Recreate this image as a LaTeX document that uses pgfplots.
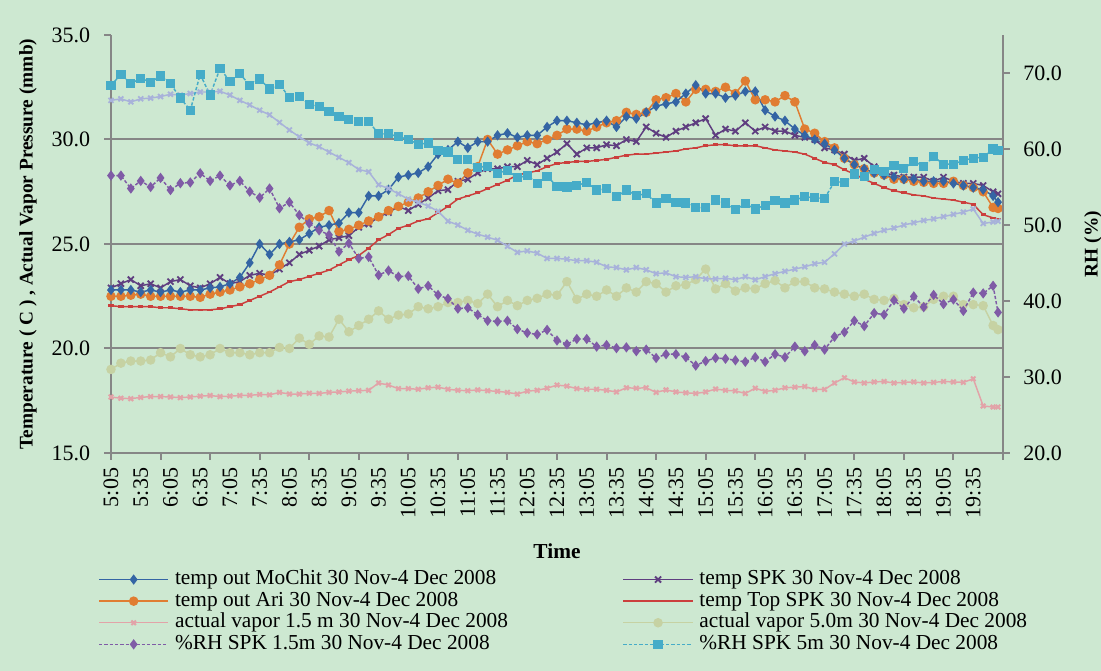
\documentclass[border=0pt]{standalone}
\usepackage{pgfplots}
\usepackage{pgfplotstable}
\usepackage{fontspec}
\setmainfont{Liberation Serif}
\pgfplotsset{compat=1.18}
\definecolor{bg}{RGB}{205,232,209}
\definecolor{axgray}{RGB}{134,134,134}
\definecolor{cMo}{RGB}{52,101,164}
\definecolor{cAri}{RGB}{224,125,50}
\definecolor{cSPK}{RGB}{95,62,128}
\definecolor{cTop}{RGB}{203,63,61}
\definecolor{cV15}{RGB}{226,163,168}
\definecolor{cV50}{RGB}{198,210,163}
\definecolor{cRH15}{RGB}{127,91,166}
\definecolor{cRH5}{RGB}{70,172,200}
\definecolor{cLav}{RGB}{168,178,218}

\pgfplotsset{
  s1/.style={color=cMo, line width=1.1pt, mark=diamond*, mark size=3pt, mark options={solid}},
  s2/.style={color=cAri, line width=1.1pt, mark=*, mark size=3pt, mark options={solid}},
  s3/.style={color=cSPK, line width=1.1pt, mark=x, mark size=3.2pt, mark options={solid, line width=1.4pt}},
  s4/.style={color=cTop, line width=1.1pt, mark=-, mark size=2pt, mark options={solid, line width=2pt}},
  s5/.style={color=cV15, line width=1.1pt, mark=x, mark size=2.4pt, mark options={solid, line width=1.5pt}},
  s6/.style={color=cV50, line width=1.1pt, mark=*, mark size=3pt, mark options={solid}},
  s7/.style={color=cRH15, line width=1.1pt, dash pattern=on 2.5pt off 1.5pt, mark=diamond*, mark size=3pt, mark options={solid}},
  s8/.style={color=cRH5, line width=1.1pt, dash pattern=on 2.5pt off 1.5pt, mark=square*, mark size=2.9pt, mark options={solid}},
  s9/.style={color=cLav, line width=1.1pt, mark=x, mark size=2.6pt, mark options={solid, line width=1.4pt}},
}

\pgfplotstableread{
m mochit ari spk top vap15 vap50 rh15 rh5 lav
0 22.8 22.5 22.9 22.05 17.68 19.0 56.5 68.4 66.4
10 22.8 22.5 23.1 22.0 17.62 19.3 56.5 69.8 66.6
20 22.8 22.55 23.3 22.0 17.6 19.4 54.8 68.6 66.2
30 22.7 22.6 23.0 22.0 17.66 19.4 55.8 69.3 66.6
40 22.8 22.5 23.1 22.0 17.7 19.45 55.0 68.8 66.7
50 22.7 22.5 22.9 21.95 17.7 19.8 56.2 69.6 66.9
60 22.8 22.5 23.2 21.95 17.68 19.6 54.6 68.6 67.2
70 22.7 22.5 23.3 21.9 17.65 20.0 55.5 66.7 67.1
80 22.8 22.5 23.0 21.85 17.68 19.7 55.6 65.1 67.3
90 22.8 22.45 22.9 21.85 17.72 19.6 56.8 69.8 67.5
100 22.9 22.6 23.1 21.85 17.75 19.7 55.8 67.1 67.5
110 22.95 22.7 23.4 21.9 17.7 20.0 56.5 70.6 67.6
120 23.1 22.8 23.1 22.0 17.72 19.8 55.2 68.9 67.1
130 23.4 22.95 23.2 22.1 17.75 19.8 55.8 69.9 66.4
140 24.1 23.1 23.5 22.3 17.76 19.7 54.4 68.4 65.8
150 25.0 23.3 23.6 22.5 17.8 19.8 53.6 69.2 65.1
160 24.5 23.5 23.5 22.7 17.78 19.8 54.8 67.9 64.5
170 25.0 24.0 23.8 22.95 17.9 20.05 52.2 68.5 63.5
180 25.1 25.0 24.1 23.2 17.82 20.0 53.0 66.8 62.5
190 25.2 25.8 24.5 23.3 17.82 20.5 51.3 66.9 61.6
200 25.5 26.2 24.7 23.45 17.86 20.2 50.2 65.9 60.8
210 25.8 26.3 24.9 23.6 17.85 20.6 49.3 65.6 60.3
220 25.9 26.6 25.2 23.75 17.9 20.55 48.7 64.9 59.6
230 26.0 25.6 25.3 24.0 17.92 21.4 46.5 64.3 58.9
240 26.5 25.7 25.4 24.25 17.96 20.8 47.6 63.9 58.2
250 26.5 25.9 25.8 24.45 17.98 21.1 45.6 63.6 57.3
260 27.3 26.1 25.95 24.8 18.0 21.4 45.8 63.6 57.0
270 27.3 26.3 26.3 25.2 18.35 21.8 43.4 62.0 55.3
280 27.6 26.6 26.5 25.45 18.25 21.4 44.0 62.0 54.8
290 28.2 26.8 26.8 25.75 18.08 21.6 43.2 61.6 54.1
300 28.3 27.0 26.6 25.9 18.08 21.65 43.3 61.3 53.4
310 28.4 27.2 26.9 26.1 18.05 22.0 41.6 60.6 53.0
320 28.7 27.5 27.2 26.2 18.12 21.9 42.0 60.8 52.5
330 29.3 27.8 27.55 26.5 18.15 22.0 40.8 59.8 51.8
340 29.5 28.1 27.6 26.8 18.05 22.2 40.3 59.6 50.5
350 29.9 27.9 28.0 27.15 18.0 22.2 39.0 58.6 50.0
360 29.6 28.4 28.1 27.3 17.98 22.3 39.1 58.6 49.3
370 29.9 28.7 28.4 27.45 18.02 22.15 38.2 57.6 48.8
380 29.9 30.0 28.6 27.65 17.98 22.6 37.4 57.7 48.4
390 30.2 29.3 28.6 27.85 17.95 22.0 37.3 56.8 48.0
400 30.3 29.5 28.7 28.05 17.9 22.3 37.4 57.2 47.2
410 30.1 29.7 28.7 28.3 17.82 22.05 36.3 56.2 46.4
420 30.2 29.9 29.0 28.4 17.96 22.3 35.8 56.5 46.6
430 30.2 29.8 28.8 28.5 18.0 22.4 35.6 55.5 46.3
440 30.6 30.0 29.1 28.7 18.1 22.6 36.2 56.4 45.6
450 30.9 30.2 29.4 28.85 18.25 22.55 34.8 55.1 45.6
460 30.9 30.5 29.8 28.9 18.2 23.2 34.3 55.0 45.5
470 30.8 30.5 29.3 28.95 18.08 22.35 35.0 55.2 45.3
480 30.7 30.4 29.6 28.95 18.05 22.6 35.0 55.6 45.3
490 30.8 30.6 29.6 29.0 18.05 22.5 34.0 54.6 45.1
500 30.9 30.8 29.75 29.05 18.0 22.8 34.2 54.8 44.5
510 30.6 30.9 29.7 29.15 17.92 22.5 33.8 53.7 44.4
520 31.1 31.3 30.0 29.25 18.12 22.9 33.9 54.6 44.1
530 31.0 31.2 29.9 29.3 18.1 22.7 33.4 53.9 44.4
540 31.3 31.3 30.6 29.3 18.12 23.2 33.6 54.1 44.1
550 31.6 31.9 30.3 29.35 17.9 23.1 32.5 52.9 43.6
560 31.7 32.0 30.1 29.4 18.02 22.7 33.0 53.5 43.7
570 31.8 32.2 30.4 29.45 17.92 23.0 33.0 53.0 43.2
580 32.2 31.8 30.6 29.55 17.88 23.05 32.6 52.9 43.1
590 32.6 32.4 30.8 29.6 17.85 23.3 31.5 52.3 43.2
600 32.2 32.4 31.0 29.7 17.92 23.8 32.1 52.3 42.9
610 32.2 32.3 30.2 29.75 18.06 22.85 32.5 53.3 42.9
620 32.0 32.5 30.5 29.75 18.0 23.1 32.4 52.9 43.0
630 32.1 32.2 30.4 29.7 17.97 22.75 32.2 52.0 42.8
640 32.3 32.8 30.8 29.7 17.85 22.9 32.0 52.8 43.2
650 32.3 31.9 30.4 29.7 18.1 22.85 32.6 52.1 42.8
660 31.4 31.9 30.6 29.6 17.95 23.1 32.0 52.6 43.2
670 31.1 31.8 30.4 29.5 18.0 23.25 33.0 53.2 43.6
680 30.9 32.1 30.4 29.45 18.12 22.9 32.6 52.9 43.9
690 30.5 31.8 30.2 29.4 18.15 23.2 34.0 53.3 44.2
700 30.2 30.5 30.1 29.3 18.18 23.2 33.4 53.7 44.5
710 30.0 30.3 30.0 29.1 18.04 22.9 34.2 53.6 44.9
720 29.8 29.9 29.6 28.9 18.04 22.85 33.6 53.5 45.1
730 29.5 29.6 29.5 28.8 18.35 22.7 35.3 55.7 46.2
740 29.1 29.1 29.3 28.55 18.6 22.6 35.9 55.6 47.5
750 28.8 28.8 29.0 28.35 18.4 22.5 37.4 56.7 47.9
760 28.6 28.6 29.1 28.1 18.35 22.6 36.7 56.4 48.4
770 28.4 28.4 28.7 27.9 18.4 22.35 38.4 57.3 48.9
780 28.3 28.3 28.4 27.7 18.42 22.3 38.2 57.0 49.3
790 28.2 28.1 28.3 27.55 18.35 22.4 40.1 57.8 49.6
800 28.1 28.1 28.2 27.45 18.38 22.1 39.0 57.4 50.0
810 28.1 28.0 28.2 27.35 18.4 21.95 40.6 58.4 50.3
820 28.0 27.95 28.2 27.3 18.35 22.0 39.2 57.7 50.6
830 28.0 27.9 28.0 27.2 18.38 22.35 40.8 59.0 50.8
840 28.0 27.9 28.2 27.15 18.42 22.5 39.6 58.0 51.1
850 27.9 28.0 28.0 27.1 18.4 22.5 40.2 58.0 51.4
860 27.8 27.8 27.9 27.0 18.38 22.1 38.7 58.5 51.7
870 27.7 27.7 27.9 26.9 18.55 22.1 41.1 58.8 52.1
880 27.6 27.5 27.8 26.4 17.25 22.05 41.0 58.9 50.2
890 27.3 26.75 27.5 26.25 17.2 21.1 42.0 60.0 50.4
895 27.0 26.7 27.4 26.2 17.2 20.9 38.5 59.8 50.5
}\data

\begin{document}
\begin{tikzpicture}
\fill[bg] (-83.25pt,-163.5pt) rectangle (742.5pt,339.75pt);
\begin{axis}[
  at={(0pt,0pt)}, anchor=south west,
  scale only axis, width=669pt, height=313.5pt,
  clip=false,
  xmin=0, xmax=900, ymin=15, ymax=35,
  axis x line*=bottom, axis y line*=left,
  axis line style={draw=axgray, line width=1.5pt},
  tick style={draw=axgray, line width=1.5pt},
  tick align=outside, major tick length=5pt,
  xtick={0,50,...,900}, xticklabels={},
  extra x ticks={0,30,...,870},
  extra x tick labels={5:05,5:35,6:05,6:35,7:05,7:35,8:05,8:35,9:05,9:35,10:05,10:35,11:05,11:35,12:05,12:35,13:05,13:35,14:05,14:35,15:05,15:35,16:05,16:35,17:05,17:35,18:05,18:35,19:05,19:35},
  extra x tick style={major tick length=0pt},
  xticklabel style={rotate=90, anchor=east, inner sep=0pt, font=\fontsize{16.5}{19}\selectfont},
  xticklabel shift=11pt,
  ytick={15,20,25,30,35},
  yticklabel style={inner sep=0pt, font=\fontsize{16.5}{19}\selectfont,
    /pgf/number format/fixed, /pgf/number format/fixed zerofill,
    /pgf/number format/precision=1, /pgf/number format/assume math mode=true},
  yticklabel shift=10.5pt,
  extra y ticks={20,25,30}, extra y tick labels={},
  extra y tick style={grid=major, major tick length=0pt},
  major grid style={draw=axgray, line width=1.5pt},
  xlabel={Time},
  xlabel style={at={(axis description cs:0.5,-0.2344)}, anchor=center, font=\bfseries\fontsize{16}{18}\selectfont},
  ylabel={Temperature ( C ) , Actual Vapor Pressure (mmb)},
  ylabel style={at={(axis description cs:-0.093,0.5)}, anchor=center, font=\bfseries\fontsize{14.5}{16}\selectfont},
]
\addplot[s6] table[x=m, y=vap50] {\data};
\addplot[s5] table[x=m, y=vap15] {\data};
\addplot[s4] table[x=m, y=top] {\data};
\addplot[s3] table[x=m, y=spk] {\data};
\addplot[s2] table[x=m, y=ari] {\data};
\addplot[s1] table[x=m, y=mochit] {\data};
\end{axis}
\begin{axis}[
  at={(0pt,0pt)}, anchor=south west,
  scale only axis, width=669pt, height=313.5pt,
  clip=false,
  xmin=0, xmax=900, ymin=20, ymax=75,
  axis x line=none, axis y line*=right,
  axis line style={draw=axgray, line width=1.5pt},
  tick style={draw=axgray, line width=1.5pt},
  tick align=outside, major tick length=5pt,
  ytick={20,30,...,70},
  yticklabel style={inner sep=0pt, font=\fontsize{16.5}{19}\selectfont,
    /pgf/number format/fixed, /pgf/number format/fixed zerofill,
    /pgf/number format/precision=1, /pgf/number format/assume math mode=true},
  yticklabel shift=10pt,
  ylabel={RH (\%)},
  ylabel style={at={(axis description cs:1.101,0.5)}, anchor=center, font=\bfseries\fontsize{14.5}{16}\selectfont},
  legend columns=2,
  legend cell align=left,
  legend style={at={(axis description cs:-0.01457,-0.2763)}, anchor=north west,
    draw=none, fill=none, inner sep=0pt,
    font=\fontsize{16}{18}\selectfont,
    nodes={inner sep=0pt, text height=12pt, text depth=4.2pt},
    /tikz/every odd column/.append style={column sep=4.5pt},
    /tikz/every even column/.append style={column sep=86pt}},
  legend image code/.code={\draw[mark repeat=2, mark phase=2, #1] plot coordinates {(0pt,0pt) (26pt,0pt) (52pt,0pt)};},
]
\addlegendimage{s1}\addlegendentry{temp out MoChit 30 Nov-4 Dec 2008}
\addlegendimage{s3}\addlegendentry{temp SPK 30 Nov-4 Dec 2008}
\addlegendimage{s2}\addlegendentry{temp out Ari 30 Nov-4 Dec 2008}
\addlegendimage{s4}\addlegendentry{temp Top SPK 30 Nov-4 Dec 2008}
\addlegendimage{s5}\addlegendentry{actual vapor 1.5 m 30 Nov-4 Dec 2008}
\addlegendimage{s6}\addlegendentry{actual vapor 5.0m 30 Nov-4 Dec 2008}
\addplot[s9, forget plot] table[x=m, y=lav] {\data};
\addplot[s7] table[x=m, y=rh15] {\data};
\addlegendentry{\%RH SPK 1.5m 30 Nov-4 Dec 2008}
\addplot[s8] table[x=m, y=rh5] {\data};
\addlegendentry{\%RH SPK 5m 30 Nov-4 Dec 2008}
\end{axis}
\pgfresetboundingbox
\useasboundingbox (-83.25pt,-163.5pt) rectangle (742.5pt,339.75pt);
\end{tikzpicture}
\end{document}
